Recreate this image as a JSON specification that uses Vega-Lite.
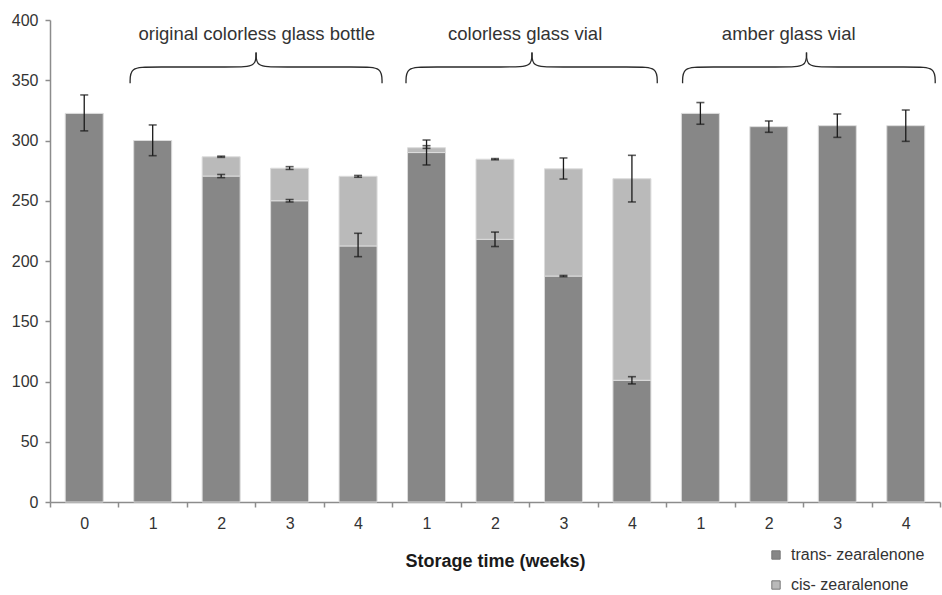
{
  "$schema": "https://vega.github.io/schema/vega-lite/v6.json",
  "width": 890,
  "height": 482,
  "autosize": "none",
  "padding": {"left": 50, "top": 20, "right": 2, "bottom": 93},
  "datasets": {
    "bars": [
      {"slot": 0, "comp": "trans", "v": 322.5, "o": 1},
      {"slot": 1, "comp": "trans", "v": 300, "o": 1},
      {"slot": 2, "comp": "trans", "v": 270.5, "o": 1},
      {"slot": 2, "comp": "cis", "v": 16, "o": 2},
      {"slot": 3, "comp": "trans", "v": 250, "o": 1},
      {"slot": 3, "comp": "cis", "v": 27, "o": 2},
      {"slot": 4, "comp": "trans", "v": 212.5, "o": 1},
      {"slot": 4, "comp": "cis", "v": 57.8, "o": 2},
      {"slot": 5, "comp": "trans", "v": 290, "o": 1},
      {"slot": 5, "comp": "cis", "v": 4, "o": 2},
      {"slot": 6, "comp": "trans", "v": 218, "o": 1},
      {"slot": 6, "comp": "cis", "v": 66.5, "o": 2},
      {"slot": 7, "comp": "trans", "v": 187.5, "o": 1},
      {"slot": 7, "comp": "cis", "v": 89, "o": 2},
      {"slot": 8, "comp": "trans", "v": 101, "o": 1},
      {"slot": 8, "comp": "cis", "v": 167.3, "o": 2},
      {"slot": 9, "comp": "trans", "v": 322.5, "o": 1},
      {"slot": 10, "comp": "trans", "v": 311.5, "o": 1},
      {"slot": 11, "comp": "trans", "v": 312.3, "o": 1},
      {"slot": 12, "comp": "trans", "v": 312.3, "o": 1}
    ],
    "err": [
      {"slot": 0, "lo": 308, "hi": 337.8},
      {"slot": 1, "lo": 287.4, "hi": 312.9},
      {"slot": 2, "lo": 269.2, "hi": 271.8},
      {"slot": 2, "lo": 286, "hi": 287},
      {"slot": 3, "lo": 249, "hi": 251},
      {"slot": 3, "lo": 276, "hi": 278.3},
      {"slot": 4, "lo": 203.6, "hi": 223},
      {"slot": 4, "lo": 269.5, "hi": 271},
      {"slot": 5, "lo": 279.7, "hi": 295.7},
      {"slot": 5, "lo": 293.5, "hi": 300.4},
      {"slot": 6, "lo": 212, "hi": 224},
      {"slot": 6, "lo": 284, "hi": 285},
      {"slot": 7, "lo": 187, "hi": 188},
      {"slot": 7, "lo": 268, "hi": 285.5},
      {"slot": 8, "lo": 98, "hi": 104},
      {"slot": 8, "lo": 249, "hi": 287.7},
      {"slot": 9, "lo": 313.5, "hi": 331.5},
      {"slot": 10, "lo": 306.8, "hi": 316.2},
      {"slot": 11, "lo": 302.6, "hi": 322},
      {"slot": 12, "lo": 299.3, "hi": 325.3}
    ],
    "brace": [
      {"g": "1L", "k": 0, "bx": 0.67, "by": 347.5},
      {"g": "1L", "k": 1, "bx": 0.67, "by": 361},
      {"g": "1L", "k": 2, "bx": 0.97, "by": 361},
      {"g": "1L", "k": 3, "bx": 2.21, "by": 361},
      {"g": "1L", "k": 4, "bx": 2.51, "by": 361},
      {"g": "1L", "k": 5, "bx": 2.51, "by": 373},
      {"g": "1R", "k": 0, "bx": 4.35, "by": 347.5},
      {"g": "1R", "k": 1, "bx": 4.35, "by": 361},
      {"g": "1R", "k": 2, "bx": 4.05, "by": 361},
      {"g": "1R", "k": 3, "bx": 2.81, "by": 361},
      {"g": "1R", "k": 4, "bx": 2.51, "by": 361},
      {"g": "1R", "k": 5, "bx": 2.51, "by": 373},
      {"g": "2L", "k": 0, "bx": 4.7, "by": 347.5},
      {"g": "2L", "k": 1, "bx": 4.7, "by": 361},
      {"g": "2L", "k": 2, "bx": 5.0, "by": 361},
      {"g": "2L", "k": 3, "bx": 6.24, "by": 361},
      {"g": "2L", "k": 4, "bx": 6.54, "by": 361},
      {"g": "2L", "k": 5, "bx": 6.54, "by": 373},
      {"g": "2R", "k": 0, "bx": 8.37, "by": 347.5},
      {"g": "2R", "k": 1, "bx": 8.37, "by": 361},
      {"g": "2R", "k": 2, "bx": 8.07, "by": 361},
      {"g": "2R", "k": 3, "bx": 6.84, "by": 361},
      {"g": "2R", "k": 4, "bx": 6.54, "by": 361},
      {"g": "2R", "k": 5, "bx": 6.54, "by": 373},
      {"g": "3L", "k": 0, "bx": 8.74, "by": 347.5},
      {"g": "3L", "k": 1, "bx": 8.74, "by": 361},
      {"g": "3L", "k": 2, "bx": 9.04, "by": 361},
      {"g": "3L", "k": 3, "bx": 10.25, "by": 361},
      {"g": "3L", "k": 4, "bx": 10.55, "by": 361},
      {"g": "3L", "k": 5, "bx": 10.55, "by": 373},
      {"g": "3R", "k": 0, "bx": 12.43, "by": 347.5},
      {"g": "3R", "k": 1, "bx": 12.43, "by": 361},
      {"g": "3R", "k": 2, "bx": 12.13, "by": 361},
      {"g": "3R", "k": 3, "bx": 10.85, "by": 361},
      {"g": "3R", "k": 4, "bx": 10.55, "by": 361},
      {"g": "3R", "k": 5, "bx": 10.55, "by": 373}
    ],
    "groups": [
      {"name": "original colorless glass bottle", "gx": 2.52, "gy": 388},
      {"name": "colorless glass vial", "gx": 6.44, "gy": 388},
      {"name": "amber glass vial", "gx": 10.29, "gy": 388}
    ]
  },
  "encoding": {
    "x": {
      "type": "quantitative",
      "scale": {"domain": [-0.5, 12.5], "nice": false, "zero": false, "padding": 0},
      "axis": {
        "title": "Storage time (weeks)",
        "values": [-0.5, 0.5, 1.5, 2.5, 3.5, 4.5, 5.5, 6.5, 7.5, 8.5, 9.5, 10.5, 11.5, 12.5],
        "labelExpr": "round(datum.value + 0.5) == 0 ? '0' : (round(datum.value + 0.5) > 12 ? '' : '' + ((round(datum.value + 0.5) - 1) % 4 + 1))",
        "labelOffset": 34.2,
        "labelFlush": false,
        "labelOverlap": false
      }
    },
    "y": {
      "type": "quantitative",
      "scale": {"domain": [0, 400], "nice": false},
      "axis": {"title": null, "values": [0, 50, 100, 150, 200, 250, 300, 350, 400]}
    }
  },
  "layer": [
    {
      "data": {"name": "bars"},
      "mark": {"type": "bar", "orient": "vertical", "width": 38, "stroke": "#dcdcdc", "strokeWidth": 1},
      "encoding": {
        "x": {"field": "slot", "type": "quantitative"},
        "y": {"field": "v", "type": "quantitative", "stack": "zero"},
        "color": {
          "field": "comp", "type": "nominal",
          "scale": {"domain": ["trans", "cis"], "range": ["#878787", "#bababa"]},
          "legend": {
            "title": null,
            "orient": "none",
            "legendX": 718,
            "legendY": 527,
            "labelExpr": "datum.value + '- zearalenone'",
            "symbolType": "square",
            "symbolSize": 70,
            "symbolStrokeColor": "#777777",
            "symbolStrokeWidth": 1,
            "labelFontSize": 16,
            "labelFont": "Liberation Sans",
            "labelColor": "#333333",
            "rowPadding": 14,
            "labelOffset": 7,
            "padding": 0
          }
        },
        "order": {"field": "o", "type": "quantitative"}
      }
    },
    {
      "data": {"name": "err"},
      "mark": {"type": "rule", "color": "#1a1a1a", "strokeWidth": 1.3},
      "encoding": {
        "x": {"field": "slot", "type": "quantitative"},
        "y": {"field": "lo", "type": "quantitative"},
        "y2": {"field": "hi"}
      }
    },
    {
      "data": {"name": "err"},
      "mark": {"type": "tick", "orient": "horizontal", "color": "#1a1a1a", "size": 8, "thickness": 1.6},
      "encoding": {
        "x": {"field": "slot", "type": "quantitative"},
        "y": {"field": "lo", "type": "quantitative"}
      }
    },
    {
      "data": {"name": "err"},
      "mark": {"type": "tick", "orient": "horizontal", "color": "#1a1a1a", "size": 8, "thickness": 1.6},
      "encoding": {
        "x": {"field": "slot", "type": "quantitative"},
        "y": {"field": "hi", "type": "quantitative"}
      }
    },
    {
      "data": {"name": "brace"},
      "mark": {"type": "line", "interpolate": "basis", "color": "#2a2a2a", "strokeWidth": 1.3},
      "encoding": {
        "x": {"field": "bx", "type": "quantitative"},
        "y": {"field": "by", "type": "quantitative"},
        "detail": {"field": "g", "type": "nominal"},
        "order": {"field": "k", "type": "quantitative"}
      }
    },
    {
      "data": {"name": "groups"},
      "mark": {"type": "text", "font": "Liberation Sans", "fontSize": 18.5, "color": "#333333", "baseline": "middle", "align": "center"},
      "encoding": {
        "x": {"field": "gx", "type": "quantitative"},
        "y": {"field": "gy", "type": "quantitative"},
        "text": {"field": "name"}
      }
    }
  ],
  "config": {
    "view": {"stroke": null},
    "axis": {
      "labelFont": "Liberation Sans",
      "labelFontSize": 16,
      "labelColor": "#333333",
      "domainColor": "#8c8c8c",
      "domainWidth": 1.5,
      "tickColor": "#8c8c8c",
      "tickWidth": 1.5,
      "tickSize": 5,
      "grid": false,
      "titleFont": "Liberation Sans",
      "titleFontSize": 18,
      "titleFontWeight": "bold",
      "titleColor": "#1a1a1a"
    },
    "axisX": {"labelPadding": 8, "titlePadding": 21},
    "axisY": {"labelPadding": 7}
  }
}
